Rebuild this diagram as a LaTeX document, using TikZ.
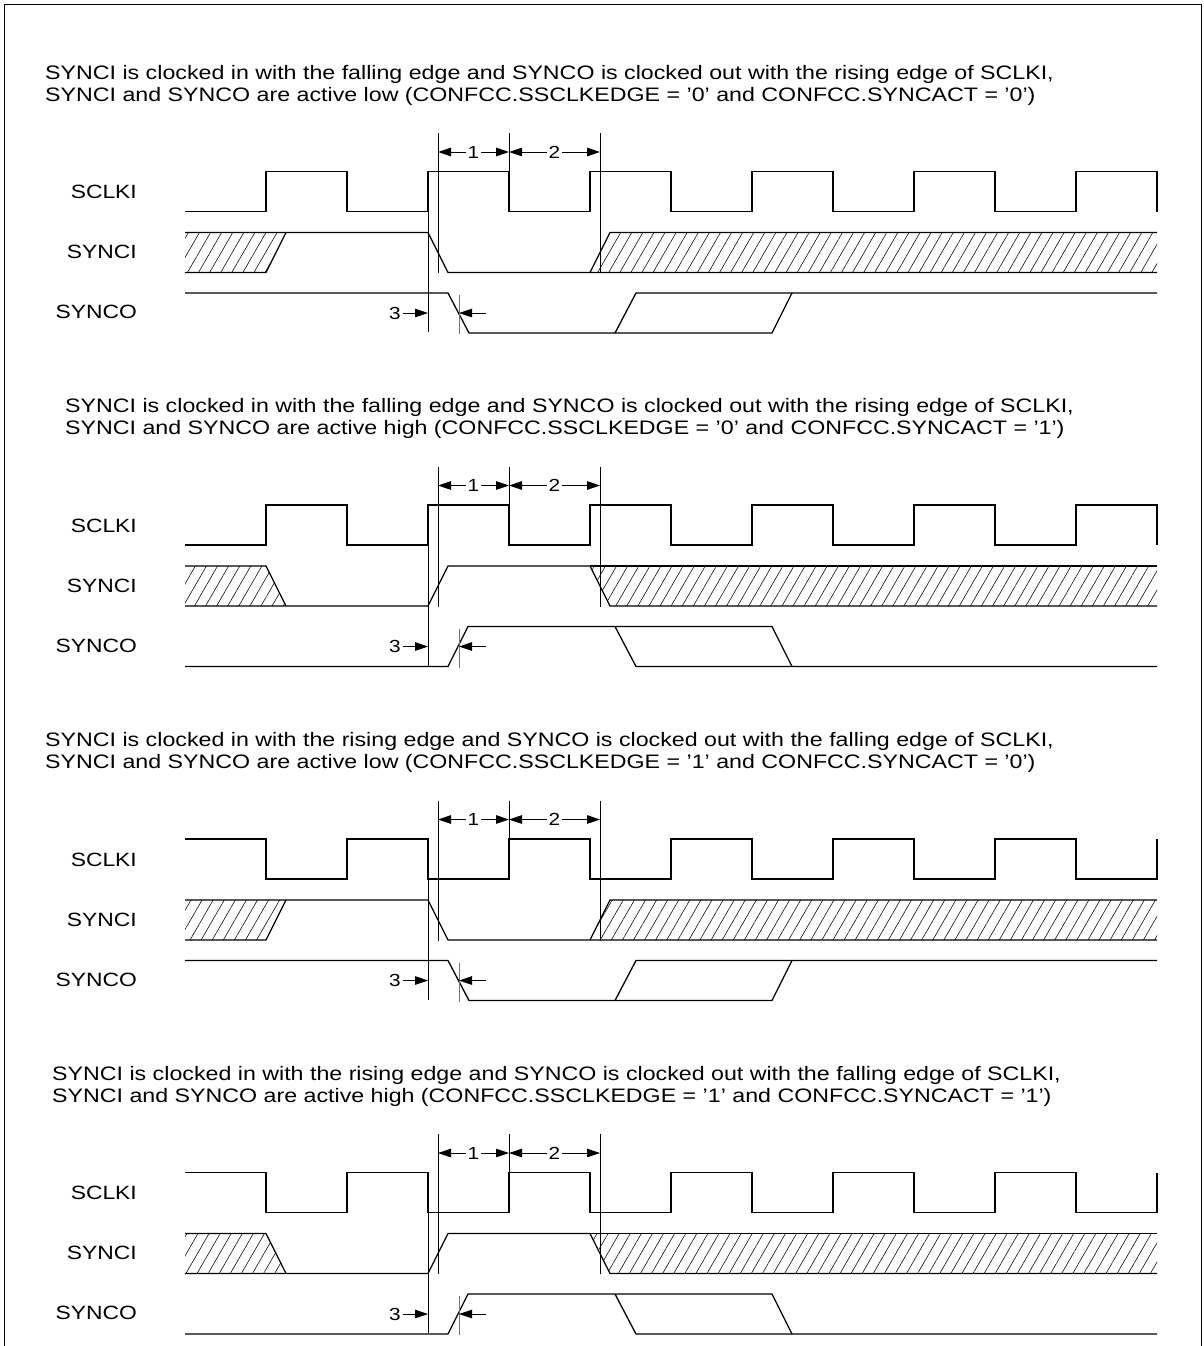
\documentclass[tikz,border=0pt]{standalone}
\usepackage{fontspec}
\setmainfont{Liberation Sans}[FakeStretch=1.19]
\usetikzlibrary{arrows.meta,patterns.meta}
% clock from start level #1 toggling to #2
\newcommand\clkwave[2]{(185,#1) -- (266,#1) -- (266,#2) -- (347,#2) -- (347,#1) -- (428,#1) -- (428,#2) -- (509,#2) -- (509,#1) -- (590,#1) -- (590,#2) -- (671,#2) -- (671,#1) -- (752,#1) -- (752,#2) -- (833,#2) -- (833,#1) -- (914,#1) -- (914,#2) -- (995,#2) -- (995,#1) -- (1076,#1) -- (1076,#2) -- (1157,#2) -- (1157,#1)}
% timing references and dimensions 1, 2, 3
\newcommand\refmarks[1]{%
\draw[ref] (428,171.5) -- (428,332); \draw[ref] (438,133) -- (438,273);
\draw[ref] (509,133) -- (509,171.5); \draw[ref] (600,133) -- (600,273);
\draw[gref] (459,295) -- (459,334);
\coordinate (a#1) at (438,152); \coordinate (b#1) at (509,152); \coordinate (c#1) at (600,152);
\draw[dim,<->] (a#1) -- node[dimlabel] (one#1) {1} (b#1);
\draw[dim,<->] (b#1) -- node[dimlabel] (two#1) {2} (c#1);
\node[dimlabel,fill=none,anchor=east] (three#1) at (403,313) {3};
\coordinate (e#1) at (428,313); \coordinate (s#1) at (486,313); \coordinate (f#1) at (459,313);
\draw[dim,->] (three#1.east) -- (e#1); \draw[dim,->] (s#1) -- (f#1);}
% signal names
\newcommand\signames[1]{%
\node[siglabel] (sclki#1) at (137,192) {SCLKI};
\node[siglabel] (synci#1) at (137,252) {SYNCI};
\node[siglabel] (synco#1) at (137,312) {SYNCO};}

\begin{document}
\begin{tikzpicture}[x=1pt,y=-1pt,>={Triangle[length=13pt,width=8.5pt]},line join=miter]
\useasboundingbox (0,0) rectangle (1204,1346);
\tikzset{sig/.style={draw=black,line width=1.3pt},ref/.style={draw=black,line width=0.8pt},gref/.style={draw=black!55,line width=0.9pt},dim/.style={draw=black,line width=0.8pt},hatch/.style={pattern={Lines[angle=60,distance=9.6pt,line width=0.55pt]}},caption/.style={anchor=base west,inner sep=0pt,font=\fontsize{19.5}{22}\selectfont},siglabel/.style={anchor=east,inner sep=0pt,font=\fontsize{19.2}{22}\selectfont},dimlabel/.style={fill=white,inner sep=2pt,font=\fontsize{17.5}{20}\selectfont}}
\draw[ref] (4,1346) -- (4,4) -- (1201,4) -- (1201,1346);

% falling edge in, active low
\begin{scope}[shift={(0,0)}]
\node[caption] (capA1) at (45,79) {SYNCI is clocked in with the falling edge and SYNCO is clocked out with the rising edge of SCLKI,};
\node[caption] (capA2) at (45,101) {SYNCI and SYNCO are active low (CONFCC.SSCLKEDGE = '0' and CONFCC.SYNCACT = '0')};
\signames{A}
\path[hatch] (185,232.5) -- (286,232.5) -- (266,272.5) -- (185,272.5) -- cycle; \path[hatch] (590,272.5) -- (610,232.5) -- (1157,232.5) -- (1157,272.5) -- cycle;
\draw[sig] \clkwave{211.5}{171.5};
\draw[sig] (185,232.5) -- (428,232.5) -- (448,272.5) -- (1157,272.5); \draw[sig] (185,272.5) -- (266,272.5) -- (286,232.5); \draw[sig] (590,272.5) -- (610,232.5) -- (1157,232.5);
\draw[sig] (185,293) -- (448,293) -- (469,333) -- (772,333) -- (792,293) -- (1157,293); \draw[sig] (615,333) -- (636,293) -- (792,293);
\refmarks{A}
\end{scope}

% falling edge in, active high
\begin{scope}[shift={(0,333.5)}]
\node[caption] (capB1) at (65,79) {SYNCI is clocked in with the falling edge and SYNCO is clocked out with the rising edge of SCLKI,};
\node[caption] (capB2) at (65,101) {SYNCI and SYNCO are active high (CONFCC.SSCLKEDGE = '0' and CONFCC.SYNCACT = '1')};
\signames{B}
\path[hatch] (185,232.5) -- (266,232.5) -- (286,272.5) -- (185,272.5) -- cycle; \path[hatch] (590,232.5) -- (1157,232.5) -- (1157,272.5) -- (610,272.5) -- cycle;
\draw[sig] \clkwave{211.5}{171.5};
\draw[sig] (185,272.5) -- (428,272.5) -- (448,232.5) -- (590,232.5) -- (610,272.5) -- (1157,272.5); \draw[sig] (185,232.5) -- (266,232.5) -- (286,272.5); \draw[sig] (590,232.5) -- (1157,232.5);
\draw[sig] (185,333) -- (448,333) -- (468,293) -- (772,293) -- (792,333) -- (1157,333); \draw[sig] (615,293) -- (636,333) -- (792,333);
\refmarks{B}
\end{scope}

% rising edge in, active low
\begin{scope}[shift={(0,667.5)}]
\node[caption] (capC1) at (45,79) {SYNCI is clocked in with the rising edge and SYNCO is clocked out with the falling edge of SCLKI,};
\node[caption] (capC2) at (45,101) {SYNCI and SYNCO are active low (CONFCC.SSCLKEDGE = '1' and CONFCC.SYNCACT = '0')};
\signames{C}
\path[hatch] (185,232.5) -- (286,232.5) -- (266,272.5) -- (185,272.5) -- cycle; \path[hatch] (590,272.5) -- (610,232.5) -- (1157,232.5) -- (1157,272.5) -- cycle;
\draw[sig] \clkwave{171.5}{211.5};
\draw[sig] (185,232.5) -- (428,232.5) -- (448,272.5) -- (1157,272.5); \draw[sig] (185,272.5) -- (266,272.5) -- (286,232.5); \draw[sig] (590,272.5) -- (610,232.5) -- (1157,232.5);
\draw[sig] (185,293) -- (448,293) -- (469,333) -- (772,333) -- (792,293) -- (1157,293); \draw[sig] (615,333) -- (636,293) -- (792,293);
\refmarks{C}
\end{scope}

% rising edge in, active high
\begin{scope}[shift={(0,1001)}]
\node[caption] (capD1) at (52,79) {SYNCI is clocked in with the rising edge and SYNCO is clocked out with the falling edge of SCLKI,};
\node[caption] (capD2) at (52,101) {SYNCI and SYNCO are active high (CONFCC.SSCLKEDGE = '1' and CONFCC.SYNCACT = '1')};
\signames{D}
\path[hatch] (185,232.5) -- (266,232.5) -- (286,272.5) -- (185,272.5) -- cycle; \path[hatch] (590,232.5) -- (1157,232.5) -- (1157,272.5) -- (610,272.5) -- cycle;
\draw[sig] \clkwave{171.5}{211.5};
\draw[sig] (185,272.5) -- (428,272.5) -- (448,232.5) -- (590,232.5) -- (610,272.5) -- (1157,272.5); \draw[sig] (185,232.5) -- (266,232.5) -- (286,272.5); \draw[sig] (590,232.5) -- (1157,232.5);
\draw[sig] (185,333) -- (448,333) -- (468,293) -- (772,293) -- (792,333) -- (1157,333); \draw[sig] (615,293) -- (636,333) -- (792,333);
\refmarks{D}
\end{scope}
\end{tikzpicture}
\end{document}
